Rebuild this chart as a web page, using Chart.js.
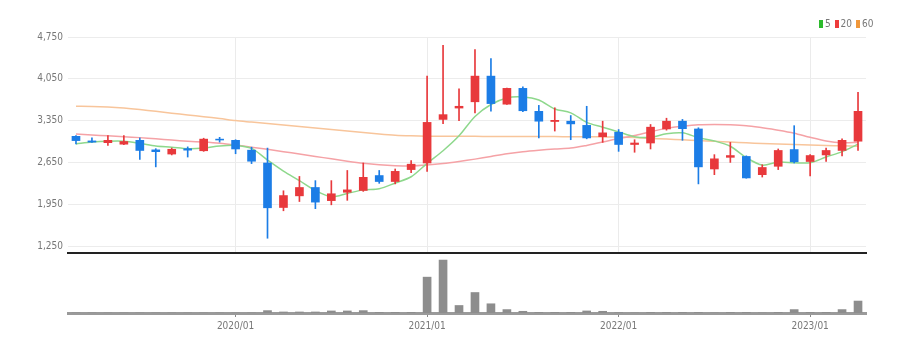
<!DOCTYPE html>
<html><head><meta charset="utf-8">
<script src="https://cdn.jsdelivr.net/npm/chart.js@4/dist/chart.umd.min.js"></script>
<style>
html,body{margin:0;padding:0;background:#fff;}
#wrap{position:relative;width:913px;height:351px;overflow:hidden;background:#fff;}
#c1{position:absolute;left:0;top:0;}
#c2{position:absolute;left:0;top:254px;}
#legend{position:absolute;top:18px;left:818px;font-size:10px;font-family:'Liberation Sans Narrow','DejaVu Sans Condensed',sans-serif;color:#777;white-space:nowrap;line-height:12px;}
#legend span.b{display:inline-block;width:4px;height:8px;margin:0 2px 0 1px;vertical-align:-1px;}
</style></head>
<body><div id="wrap">
<canvas id="c1" width="913" height="264"></canvas>
<canvas id="c2" width="913" height="97"></canvas>
<div id="legend"><span class="b" style="background:#2dbb2d"></span>5 <span class="b" style="background:#ee3b3b"></span>20 <span class="b" style="background:#f0973a"></span>60</div>
</div>
<script>
const months = ['2019/03','2019/04','2019/05','2019/06','2019/07','2019/08','2019/09','2019/10','2019/11','2019/12',
'2020/01','2020/02','2020/03','2020/04','2020/05','2020/06','2020/07','2020/08','2020/09','2020/10','2020/11','2020/12',
'2021/01','2021/02','2021/03','2021/04','2021/05','2021/06','2021/07','2021/08','2021/09','2021/10','2021/11','2021/12',
'2022/01','2022/02','2022/03','2022/04','2022/05','2022/06','2022/07','2022/08','2022/09','2022/10','2022/11','2022/12',
'2023/01','2023/02','2023/03','2023/04'];
const openVals  = [3087,3010,2980,2955,3020,2860,2790,2880,2845,3040,3020,2855,2640,1895,2090,2230,2010,2150,2180,2430,2330,2530,2640,3370,3560,3665,4095,3625,3890,3505,3335,3340,3270,3080,3155,2950,2975,3210,3340,3210,2540,2735,2750,2445,2585,2865,2665,2775,2850,3005];
const highVals  = [3100,3060,3100,3100,3060,2880,2890,2910,3055,3070,3030,2905,2890,2175,2415,2345,2345,2515,2640,2515,2540,2680,4095,4610,3880,4540,4390,3895,3915,3605,3565,3435,3590,3340,3200,3030,3285,3390,3370,3230,2780,2985,2760,2610,2875,3265,2780,2890,3045,3825];
const lowVals   = [2960,2985,2935,2945,2700,2575,2775,2740,2835,2990,2795,2630,1380,1840,1995,1875,1940,2015,2165,2300,2290,2480,2500,3300,3350,3480,3510,3620,3500,3060,3175,3030,3045,2985,2835,2820,2875,3190,3020,2290,2445,2650,2385,2405,2530,2640,2425,2665,2760,2850];
const closeVals = [3015,2990,3020,3000,2850,2830,2870,2855,3040,3025,2875,2670,1890,2095,2230,1985,2125,2190,2400,2330,2500,2620,3320,3450,3590,4095,3635,3890,3515,3340,3355,3295,3060,3145,2950,2975,3240,3340,3215,2575,2710,2765,2390,2565,2850,2660,2765,2850,3020,3505];
const ma5  = [2960,2990,3005,3005,2970,2925,2905,2880,2890,2925,2935,2885,2690,2505,2345,2180,2075,2130,2190,2210,2305,2410,2635,2845,3095,3420,3620,3730,3745,3695,3545,3480,3320,3240,3160,3080,3070,3130,3145,3065,3010,2920,2730,2605,2655,2645,2645,2740,2830,2955];
const ma20 = [3125,3110,3095,3080,3065,3045,3025,3005,2990,2970,2940,2905,2870,2830,2790,2750,2710,2670,2635,2610,2595,2590,2605,2630,2665,2705,2750,2795,2830,2855,2875,2890,2935,2990,3050,3100,3165,3220,3255,3280,3285,3280,3265,3230,3190,3140,3070,3010,2980,2985];
const ma60 = [3590,3588,3578,3560,3535,3505,3475,3445,3415,3385,3350,3325,3300,3275,3250,3225,3200,3175,3150,3125,3105,3095,3090,3088,3087,3086,3085,3085,3084,3083,3082,3081,3080,3078,3075,3065,3050,3040,3030,3015,3005,2990,2978,2968,2958,2950,2942,2935,2927,2920];
const volume = [0,0,0,0,0,0,0,0,0,0,0,0,7,3,3,3,6,6,7,2,2,2,105,155,22,60,27,10,5,2,2,2,6,5,1,0,2,2,2,2,0,2,2,0,2,10,2,2,10,35];
const priceTicks = [1250,1950,2650,3350,4050,4750];

const RED = '#e8393c', BLUE = '#1c7de6';
const FONT = "'Liberation Sans Narrow','DejaVu Sans Condensed',sans-serif";
const candleColors = openVals.map((o,i)=> closeVals[i] >= o ? RED : BLUE);
const bodies = openVals.map((o,i)=>[o, closeVals[i]]);
const wicks = lowVals.map((l,i)=>[l, highVals[i]]);
const isYear = i => months[i] && months[i].endsWith('/01');

new Chart(document.getElementById('c1'), {
  type: 'bar',
  data: { labels: months, datasets: [
    {type:'line', label:'60', data: ma60, borderColor:'#f8c59b', borderWidth:1.5, pointRadius:0, tension:0.3, order:3},
    {type:'line', label:'20', data: ma20, borderColor:'#f5a2a6', borderWidth:1.5, pointRadius:0, tension:0.3, order:2},
    {type:'line', label:'5', data: ma5, borderColor:'#8ed88c', borderWidth:1.5, pointRadius:0, tension:0.3, order:1},
    {label:'wick', data: wicks, backgroundColor: candleColors, barThickness:1, grouped:false, order:0},
    {label:'body', data: bodies, backgroundColor: candleColors, barThickness:8, grouped:false, order:0}
  ]},
  options: {
    responsive:false, animation:false,
    layout:{autoPadding:false, padding:{top:37,right:47,bottom:1,left:0}},
    plugins:{legend:{display:false}, tooltip:{enabled:false}},
    scales:{
      x:{offset:true,
         grid:{offset:false, drawTicks:false, color:(c)=> isYear(c.index) ? '#ebebeb' : 'rgba(0,0,0,0)'},
         ticks:{display:false, autoSkip:false},
         border:{display:true, color:'#222', width:2},
         afterFit:(s)=>{s.height=0;}},
      y:{min:1133, max:4750,
         afterBuildTicks:(s)=>{s.ticks = priceTicks.map(v=>({value:v}));},
         ticks:{callback:(v)=>Number(v).toLocaleString('en-US'), color:'#777', font:{size:10, family:FONT}, padding:5},
         grid:{color:'#ececec', drawTicks:false},
         border:{display:false},
         afterFit:(s)=>{s.width=68;}}
    }
  }
});

new Chart(document.getElementById('c2'), {
  type: 'bar',
  data: { labels: months, datasets: [
    {label:'volume', data: volume, backgroundColor:'#8d8d8d', barThickness:8}
  ]},
  options: {
    responsive:false, animation:false,
    layout:{autoPadding:false, padding:{top:3,right:47,bottom:0,left:68}},
    plugins:{legend:{display:false}, tooltip:{enabled:false}},
    scales:{
      x:{offset:true,
         grid:{offset:false, drawOnChartArea:false, drawTicks:true, tickLength:4, color:(c)=> isYear(c.index) ? '#888' : 'rgba(0,0,0,0)'},
         border:{display:true, color:'#9a9a9a', width:3},
         ticks:{autoSkip:false, maxRotation:0, minRotation:0, padding:3, color:'#777', font:{size:10, family:FONT},
                callback:(v,i)=> isYear(i) ? months[i] : ''},
         afterFit:(s)=>{s.height=38;}},
      y:{display:false, min:0, max:164}
    }
  }
});
</script>
</body></html>
